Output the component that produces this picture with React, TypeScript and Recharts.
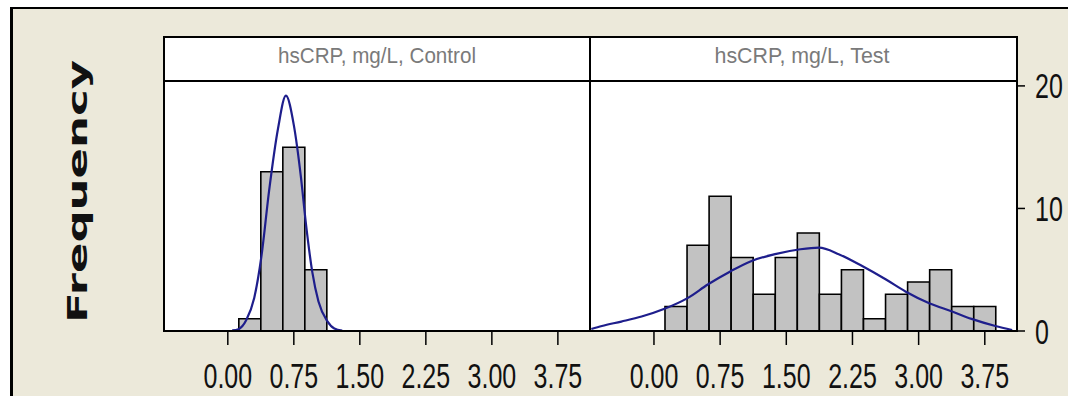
import React from 'react';
import { ComposedChart, Bar, Line, XAxis, YAxis } from 'recharts';

// histogram bins (width 0.25), centred on these hsCRP values
const binMids = [0.25, 0.5, 0.75, 1.0, 1.25, 1.5, 1.75, 2.0, 2.25, 2.5, 2.75, 3.0, 3.25, 3.5, 3.75];
const controlCounts = [1, 13, 15, 5];
const testCounts = [2, 7, 11, 6, 3, 6, 8, 3, 5, 1, 3, 4, 5, 2, 2];

// fitted normal curves
const controlFitX = [0.05, 0.12, 0.21, 0.3, 0.38, 0.47, 0.57, 0.66, 0.75, 0.83, 0.89, 0.96, 1.03, 1.13, 1.21, 1.3];
const controlFitY = [0.05, 0.15, 0.9, 2.7, 6.0, 11.5, 16.5, 19.2, 16.8, 12.6, 8.6, 4.8, 2.4, 0.8, 0.2, 0.03];
const testFitX = [-0.71, -0.59, -0.37, -0.14, 0.12, 0.38, 0.61, 0.87, 1.1, 1.36, 1.66, 1.87, 2.1, 2.36, 2.63, 2.85, 3.12, 3.38, 3.6, 3.87, 4.06];
const testFitY = [0.16, 0.41, 0.77, 1.18, 1.81, 2.68, 3.79, 4.88, 5.7, 6.25, 6.67, 6.8, 6.25, 5.3, 4.2, 3.23, 2.27, 1.59, 0.99, 0.41, 0.08];

const xTicks = [0, 0.75, 1.5, 2.25, 3, 3.75];
const yTicks = [0, 10, 20];
const panelTitles = ['hsCRP, mg/L, Control', 'hsCRP, mg/L, Test'];
const yLabel = 'Frequency';

const X_DOMAIN: [number, number] = [-0.725, 4.115];
const Y_DOMAIN: [number, number] = [0, 20.4];
const BEIGE = '#ECE9DA';
const TICK_FONT = '"Liberation Sans", Arial, sans-serif';

const controlBins = controlCounts.map((n, i) => ({ x: binMids[i], n }));
const testBins = testCounts.map((n, i) => ({ x: binMids[i], n }));
const controlFit = controlFitX.map((x, i) => ({ x, y: controlFitY[i] }));
const testFit = testFitX.map((x, i) => ({ x, y: testFitY[i] }));

// the source image is stretched vertically, so tick text is tall and narrow
const XTick = (props: any) => {
  const { x, y, payload } = props;
  return (
    <text transform={`translate(${x},${y + 41}) scale(1,1.4)`} textAnchor="middle"
      fontFamily={TICK_FONT} fontSize={25} fill="#111">
      {Number(payload.value).toFixed(2)}
    </text>
  );
};

const YTick = (props: any) => {
  const { x, y, payload } = props;
  return (
    <text transform={`translate(${x + 8},${y + 12.5}) scale(1,1.4)`} textAnchor="start"
      fontFamily={TICK_FONT} fontSize={25} fill="#111">
      {payload.value}
    </text>
  );
};

const Panel: React.FC<{ bins: any[]; fit: any[]; showY: boolean }> = ({ bins, fit, showY }) => (
  <ComposedChart
    width={showY ? 478 : 466}
    height={359}
    data={bins}
    margin={{ top: 44, right: showY ? 0 : 40, bottom: 0, left: 0 }}
    barCategoryGap={0}
    barGap={0}
  >
    <XAxis
      xAxisId="bins"
      dataKey="x"
      type="number"
      domain={X_DOMAIN}
      ticks={xTicks}
      interval={0}
      height={65}
      tickSize={14}
      axisLine={{ stroke: '#000', strokeWidth: 2 }}
      tickLine={{ stroke: '#000', strokeWidth: 1.5 }}
      tick={<XTick />}
    />
    <XAxis xAxisId="fit" dataKey="x" type="number" domain={X_DOMAIN} hide />
    <YAxis
      domain={Y_DOMAIN}
      ticks={yTicks}
      hide={!showY}
      orientation="right"
      width={51}
      tickSize={8}
      axisLine={{ stroke: '#000', strokeWidth: 2 }}
      tickLine={{ stroke: '#000', strokeWidth: 1.5 }}
      tick={<YTick />}
    />
    <Bar
      xAxisId="bins"
      dataKey="n"
      barSize={22}
      fill="#c2c2c2"
      stroke="#000"
      strokeWidth={1.6}
      isAnimationActive={false}
    />
    <Line
      xAxisId="fit"
      data={fit}
      dataKey="y"
      type="monotone"
      stroke="#1e1e8c"
      strokeWidth={2.2}
      dot={false}
      isAnimationActive={false}
    />
  </ComposedChart>
);

export default function App() {
  return (
    <div style={{ position: 'relative', width: 1068, height: 396, overflow: 'hidden', background: '#fff' }}>
      <style>{'body{margin:0}'}</style>
      <svg width={1068} height={396} style={{ position: 'absolute', left: 0, top: 0 }}>
        <rect x={12} y={8} width={1056} height={388} fill={BEIGE} />
        <line x1={10} x2={1068} y1={8} y2={8} stroke="#000" strokeWidth={2} />
        <line x1={11.5} x2={11.5} y1={7} y2={396} stroke="#000" strokeWidth={3} />
        <rect x={164} y={37} width={853} height={294} fill="#fff" stroke="#000" strokeWidth={2} />
        <line x1={164} x2={1017} y1={81} y2={81} stroke="#000" strokeWidth={2} />
        <line x1={590} x2={590} y1={37} y2={331} stroke="#000" strokeWidth={2} />
        <text x={377} y={63} textAnchor="middle" fontFamily={TICK_FONT} fontSize={22} fill="#7a7a7a"
          textLength={198} lengthAdjust="spacingAndGlyphs">{panelTitles[0]}</text>
        <text x={802} y={63} textAnchor="middle" fontFamily={TICK_FONT} fontSize={22} fill="#7a7a7a"
          textLength={175} lengthAdjust="spacingAndGlyphs">{panelTitles[1]}</text>
        <text transform="translate(87,191.5) rotate(-90)" textAnchor="middle" fontFamily='"DejaVu Sans", Verdana, sans-serif'
          fontWeight="bold" fontSize={27} fill="#111" textLength={263} lengthAdjust="spacingAndGlyphs">{yLabel}</text>
      </svg>
      <div style={{ position: 'absolute', left: 164, top: 37 }}>
        <Panel bins={controlBins} fit={controlFit} showY={false} />
      </div>
      <div style={{ position: 'absolute', left: 590, top: 37 }}>
        <Panel bins={testBins} fit={testFit} showY />
      </div>
    </div>
  );
}
